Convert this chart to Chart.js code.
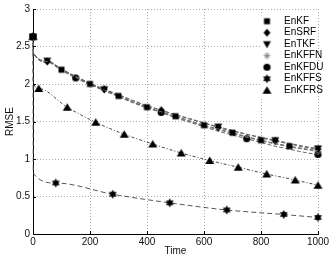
<!DOCTYPE html>
<html>
<head>
<meta charset="utf-8">
<script src="https://cdn.jsdelivr.net/npm/chart.js@4.4.0/dist/chart.umd.min.js"></script>
<style>
html, body { margin: 0; padding: 0; background: #fff; }
</style>
</head>
<body>
<canvas id="chart-rmse" width="332" height="259"></canvas>
<script>
// time grids
const time_top = [0, 1, 50, 100, 150, 200, 250, 300, 350, 400, 450, 500, 550, 600, 650, 700, 750, 800, 850, 900, 950, 1000];
const time_rs = [0, 1, 20, 120, 220, 320, 420, 520, 620, 720, 820, 920, 1000];
const time_fs = [0, 1, 80, 280, 480, 680, 880, 1000];

// RMSE values
const rmse_enkf   = [2.63, 2.42, 2.30, 2.19, 2.09, 2.00, 1.92, 1.84, 1.76, 1.69, 1.63, 1.57, 1.51, 1.45, 1.40, 1.35, 1.30, 1.25, 1.21, 1.17, 1.14, 1.11];
const rmse_ensrf  = [2.63, 2.42, 2.30, 2.20, 2.10, 2.01, 1.93, 1.85, 1.78, 1.71, 1.65, 1.59, 1.53, 1.48, 1.42, 1.37, 1.33, 1.28, 1.24, 1.20, 1.16, 1.13];
const rmse_entkf  = [2.63, 2.42, 2.31, 2.20, 2.10, 2.01, 1.93, 1.86, 1.78, 1.71, 1.65, 1.59, 1.54, 1.48, 1.43, 1.38, 1.33, 1.29, 1.25, 1.21, 1.17, 1.14];
const rmse_enkffn = [2.63, 2.42, 2.30, 2.19, 2.09, 2.00, 1.92, 1.84, 1.76, 1.69, 1.62, 1.56, 1.50, 1.44, 1.39, 1.34, 1.29, 1.24, 1.20, 1.16, 1.13, 1.10];
const rmse_enkfdu = [2.63, 2.42, 2.29, 2.18, 2.08, 1.99, 1.91, 1.83, 1.75, 1.68, 1.62, 1.55, 1.49, 1.43, 1.37, 1.32, 1.27, 1.22, 1.17, 1.13, 1.09, 1.06];
const rmse_enkfrs = [2.63, 2.02, 1.94, 1.69, 1.49, 1.33, 1.20, 1.08, 0.98, 0.89, 0.80, 0.72, 0.65];
const rmse_enkffs = [2.63, 0.81, 0.68, 0.53, 0.415, 0.32, 0.26, 0.22];

// where each series shows its marker
const marks_enkf   = [0, 100, 200, 300, 400, 500, 600, 700, 800, 900];
const marks_ensrf  = [0, 50, 250, 450, 650, 850, 1000];
const marks_entkf  = [0, 50, 250, 650, 850, 1000];
const marks_enkffn = [0, 1000];
const marks_enkfdu = [0, 150, 450, 750, 1000];
const marks_enkffs = [0, 80, 280, 480, 680, 880, 1000];
const marks_enkfrs = [0, 20, 120, 220, 320, 420, 520, 620, 720, 820, 920, 1000];

const x_ticks = [0, 200, 400, 600, 800, 1000];
const y_ticks = [0, 0.5, 1, 1.5, 2, 2.5, 3];

// marker pictures
function makeMarker(kind) {
    const s = 11, m = 5.5;
    const c = document.createElement('canvas');
    c.width = s; c.height = s;
    const g = c.getContext('2d');
    g.fillStyle = '#000';
    g.beginPath();
    if (kind === 'square') {
        g.rect(m - 3, m - 3, 6, 6);
    } else if (kind === 'diamond') {
        g.moveTo(m, m - 4); g.lineTo(m + 3.5, m); g.lineTo(m, m + 4); g.lineTo(m - 3.5, m); g.closePath();
    } else if (kind === 'tridown') {
        g.moveTo(m - 4, m - 3); g.lineTo(m + 4, m - 3); g.lineTo(m, m + 4); g.closePath();
    } else if (kind === 'triup') {
        g.moveTo(m - 4.5, m + 3.5); g.lineTo(m + 4.5, m + 3.5); g.lineTo(m, m - 4); g.closePath();
    } else if (kind === 'circle') {
        g.arc(m, m, 3.6, 0, Math.PI * 2);
    } else if (kind === 'hexagram') {
        const r = 4.5;
        for (const off of [-90, 90]) {
            for (let k = 0; k < 3; k++) {
                const a = (off + k * 120) * Math.PI / 180;
                const px = m + r * Math.cos(a), py = m + r * Math.sin(a);
                if (k === 0) g.moveTo(px, py); else g.lineTo(px, py);
            }
            g.closePath();
        }
    } else if (kind === 'asterisk') {
        g.strokeStyle = '#8a8a8a';
        g.lineWidth = 1;
        for (let k = 0; k < 4; k++) {
            const a = k * Math.PI / 4;
            g.moveTo(m - 3.5 * Math.cos(a), m - 3.5 * Math.sin(a));
            g.lineTo(m + 3.5 * Math.cos(a), m + 3.5 * Math.sin(a));
        }
        g.stroke();
        return c;
    }
    g.fill();
    return c;
}

function makeSeries(label, times, values, marks, marker, color, dash) {
    return {
        label: label,
        data: times.map((t, i) => ({ x: t, y: values[i] })),
        borderColor: color,
        borderWidth: 1,
        borderDash: dash,
        pointStyle: makeMarker(marker),
        legendMarker: marker,
        pointRadius: c => marks.includes(c.raw.x) ? 4 : 0,
        pointHoverRadius: 0,
        cubicInterpolationMode: 'monotone',
        clip: false,
        fill: false
    };
}

const datasets = [
    makeSeries('EnKF', time_top, rmse_enkf, marks_enkf, 'square', '#666', [4, 2]),
    makeSeries('EnSRF', time_top, rmse_ensrf, marks_ensrf, 'diamond', '#666', [4, 2]),
    makeSeries('EnTKF', time_top, rmse_entkf, marks_entkf, 'tridown', '#666', [4, 2]),
    makeSeries('EnKFFN', time_top, rmse_enkffn, marks_enkffn, 'asterisk', '#777', [4, 2]),
    makeSeries('EnKFDU', time_top, rmse_enkfdu, marks_enkfdu, 'circle', '#666', [4, 2]),
    makeSeries('EnKFFS', time_fs, rmse_enkffs, marks_enkffs, 'hexagram', '#555', [5, 3]),
    makeSeries('EnKFRS', time_rs, rmse_enkfrs, marks_enkfrs, 'triup', '#444', [3, 2, 1, 2])
];

// legend inside the plot + small inward ticks
const rmseLegend = {
    id: 'rmseLegend',
    afterDraw(chart) {
        const ctx = chart.ctx;
        const a = chart.chartArea;
        ctx.save();
        ctx.strokeStyle = '#000';
        ctx.lineWidth = 1;
        chart.scales.x.ticks.forEach(t => {
            const px = Math.round(chart.scales.x.getPixelForValue(t.value)) + 0.5;
            ctx.beginPath(); ctx.moveTo(px, a.bottom); ctx.lineTo(px, a.bottom - 3); ctx.stroke();
        });
        chart.scales.y.ticks.forEach(t => {
            const py = Math.round(chart.scales.y.getPixelForValue(t.value)) + 0.5;
            ctx.beginPath(); ctx.moveTo(a.left, py); ctx.lineTo(a.left + 3, py); ctx.stroke();
        });

        const bx = a.right - 57, by = a.top + 6.5;
        ctx.fillStyle = '#fff';
        ctx.fillRect(bx, by, 56, 82);
        ctx.font = '10px "Liberation Sans", Arial, sans-serif';
        ctx.fillStyle = '#000';
        ctx.textBaseline = 'middle';
        chart.data.datasets.forEach((ds, i) => {
            const y = by + 5.7 + i * 11.5;
            const img = makeMarker(ds.legendMarker);
            ctx.drawImage(img, bx + 6 - img.width / 2, y - img.height / 2);
            ctx.fillText(ds.label, bx + 23, y);
        });
        ctx.restore();
    }
};

new Chart(document.getElementById('chart-rmse'), {
    type: 'line',
    data: { datasets: datasets },
    options: {
        responsive: false,
        animation: false,
        events: [],
        layout: { padding: { top: 8.5, right: 14, left: 0, bottom: 0 } },
        font: { family: '"Liberation Sans", Arial, sans-serif', size: 10 },
        scales: {
            x: {
                type: 'linear',
                min: 0,
                max: 1000,
                afterFit: s => { s.height = 25; },
                afterBuildTicks: s => { s.ticks = x_ticks.map(v => ({ value: v })); },
                ticks: { padding: 2.5, color: '#111', font: { size: 10 }, callback: v => String(v), maxRotation: 0 },
                grid: { color: c => c.tick && c.tick.value === 0 ? 'rgba(0,0,0,0)' : '#aaa', drawTicks: false },
                border: { display: true, color: '#000', dash: [1, 2] },
                title: { display: true, text: 'Time', color: '#111', font: { size: 10 }, padding: { top: 0, bottom: 2 } }
            },
            y: {
                min: 0,
                max: 3,
                afterFit: s => { s.width = 33; },
                afterBuildTicks: s => { s.ticks = y_ticks.map(v => ({ value: v })); },
                ticks: { padding: 3, color: '#111', font: { size: 10 }, callback: v => String(v) },
                grid: { color: c => c.tick && c.tick.value === 0 ? 'rgba(0,0,0,0)' : '#aaa', drawTicks: false },
                border: { display: true, color: '#000', dash: [1, 2] },
                title: { display: true, text: 'RMSE', color: '#111', font: { size: 10 }, padding: { top: 4, bottom: 0 } }
            }
        },
        plugins: {
            legend: { display: false },
            tooltip: { enabled: false }
        }
    },
    plugins: [rmseLegend]
});
</script>
</body>
</html>
